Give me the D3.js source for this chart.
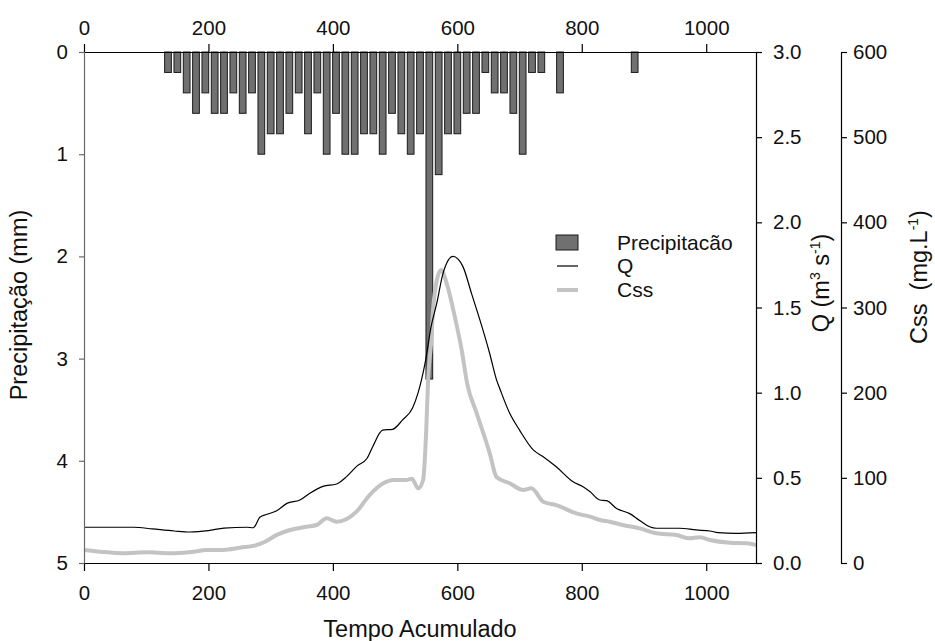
<!DOCTYPE html>
<html>
<head>
<meta charset="utf-8">
<script src="https://cdn.jsdelivr.net/npm/d3@7/dist/d3.min.js"></script>
<style>
html,body{margin:0;padding:0;background:#fff;}
svg{display:block;}
text{font-family:"Liberation Sans",Arial,sans-serif;fill:#111;}
</style>
</head>
<body>
<svg id="chart" width="935" height="641"></svg>
<script>
// ---- data ----
const precipTime = [135,150,165,180,195,210,225,240,255,270,285,300,315,330,345,360,375,390,405,420,435,450,465,480,495,510,525,540,555,570,585,600,615,630,645,660,675,690,705,720,735,765,885];
const precipMm   = [0.2,0.2,0.4,0.6,0.4,0.6,0.6,0.4,0.6,0.4,1.0,0.8,0.8,0.6,0.4,0.8,0.4,1.0,0.6,1.0,1.0,0.8,0.8,1.0,0.6,0.8,1.0,0.8,3.2,1.2,0.8,0.8,0.6,0.6,0.2,0.4,0.4,0.6,1.0,0.2,0.2,0.4,0.2];

const qTime = [0,80,110,145,170,200,225,262,272,283,293,309,326,347,363,384,406,422,439,455,464,480,496,512,528,537,548,558,567,577,593,609,623,636,652,663,668,684,700,722,738,759,786,802,813,829,840,856,877,893,909,920,957,984,1006,1019,1048,1080];
const qVal  = [0.21,0.21,0.20,0.188,0.182,0.19,0.205,0.21,0.207,0.27,0.285,0.305,0.35,0.37,0.41,0.45,0.464,0.507,0.57,0.615,0.683,0.78,0.785,0.84,0.91,1.0,1.17,1.39,1.525,1.70,1.80,1.74,1.58,1.43,1.23,1.075,1.026,0.88,0.78,0.664,0.624,0.565,0.477,0.448,0.42,0.37,0.366,0.32,0.29,0.25,0.213,0.204,0.204,0.194,0.188,0.178,0.174,0.178];

const cTime = [0,26,63,101,138,176,197,224,251,277,291,310,331,358,374,390,406,438,459,481,497,518,527,537,545,550,553,558,561,567,574,583,596,607,616,631,652,663,684,706,719,738,759,791,813,829,845,866,893,920,952,973,990,1006,1038,1065,1080];
const cVal  = [15.3,13.3,11.4,12.5,11.4,13.3,15.3,15.3,18,21,25,33,38.7,42.6,44.6,52.5,48.5,60.3,79.8,93.6,97.5,97.5,99,87.7,97.5,156,215,260,297,332,344,328,289,250,210,176,129,101,93.6,85.7,87.7,72,68,58.3,54.4,50.5,48.5,44.6,40.7,34.9,32.9,29,30.2,27,23.8,23.1,21];

const timeTicks = [0,200,400,600,800,1000];
const precipTicks = [0,1,2,3,4,5];
const qTicks = [0,0.5,1,1.5,2,2.5,3];
const cTicks = [0,100,200,300,400,500,600];

const legendLabels = ["Precipitacão","Q","Css"];

// ---- layout ----
const svg = d3.select("#chart");
const L = 84, R = 756, T = 52, B = 563;
const x = d3.scaleLinear().domain([0,1080]).range([L,R]);
const yP = d3.scaleLinear().domain([0,5]).range([T,B]);
const yQ = d3.scaleLinear().domain([0,3]).range([B,T]);
const yC = d3.scaleLinear().domain([0,600]).range([B,T]);

const barHalf = 5.4;
const barColor = "#707070";
const cssColor = "#c3c3c3";
const fs = 20.5;
const tfs = 23.5;
const lfs = 21;

// bars
svg.append("g").selectAll("rect").data(precipTime.map((t,i)=>({t, v:precipMm[i]})))
  .join("rect")
  .attr("x", d => x(d.t - barHalf))
  .attr("width", d => x(d.t + barHalf) - x(d.t - barHalf))
  .attr("y", yP(0))
  .attr("height", d => yP(d.v) - yP(0))
  .attr("fill", barColor)
  .attr("stroke", "#1a1a1a")
  .attr("stroke-width", 1);

// lines
const qData = qTime.map((t,i)=>[t,qVal[i]]);
const cData = cTime.map((t,i)=>[t,cVal[i]]);
svg.append("path").datum(cData)
  .attr("d", d3.line().x(d=>x(d[0])).y(d=>yC(d[1])).curve(d3.curveMonotoneX))
  .attr("fill","none").attr("stroke",cssColor).attr("stroke-width",4).attr("stroke-linejoin","round");
svg.append("path").datum(qData)
  .attr("d", d3.line().x(d=>x(d[0])).y(d=>yQ(d[1])).curve(d3.curveMonotoneX))
  .attr("fill","none").attr("stroke","#000").attr("stroke-width",1.2);

function styleAxis(g, color){
  g.selectAll("path").attr("stroke", color).attr("stroke-width",1.2);
  g.selectAll("line").attr("stroke", color).attr("stroke-width",1.2);
  g.selectAll("text").attr("font-size", fs).attr("fill","#111")
    .attr("font-family","Liberation Sans, Arial, sans-serif");
}

// bottom axis
const gB = svg.append("g").attr("transform",`translate(0,${B})`)
  .call(d3.axisBottom(x).tickValues(timeTicks).tickFormat(d3.format("d")).tickSizeInner(8).tickSizeOuter(0).tickPadding(14));
styleAxis(gB,"#000");
// top axis
const gT = svg.append("g").attr("transform",`translate(0,${T})`)
  .call(d3.axisTop(x).tickValues(timeTicks).tickFormat(d3.format("d")).tickSizeInner(8).tickSizeOuter(0).tickPadding(9));
styleAxis(gT,"#000");
// left axis
const gL = svg.append("g").attr("transform",`translate(${L},0)`)
  .call(d3.axisLeft(yP).tickValues(precipTicks).tickFormat(d3.format("d")).tickSizeInner(5).tickSizeOuter(0).tickPadding(11));
styleAxis(gL,"#6a6a6a");
// right Q axis
const gQ = svg.append("g").attr("transform",`translate(${R},0)`)
  .call(d3.axisRight(yQ).tickValues(qTicks).tickFormat(d3.format(".1f")).tickSizeInner(6).tickSizeOuter(0).tickPadding(11));
styleAxis(gQ,"#000");
// Css axis
const cssX = 841;
const gC = svg.append("g").attr("transform",`translate(${cssX},0)`)
  .call(d3.axisRight(yC).tickValues(cTicks).tickFormat(d3.format("d")).tickSizeInner(6).tickSizeOuter(0).tickPadding(6));
styleAxis(gC,"#000");

// titles
svg.append("text").attr("x", (L+R)/2).attr("y", 637).attr("text-anchor","middle")
  .attr("font-size",tfs).text("Tempo Acumulado");
svg.append("text").attr("transform","translate(27,305) rotate(-90)").attr("text-anchor","middle")
  .attr("font-size",tfs).text("Precipitação (mm)");

const qt = svg.append("text").attr("transform","translate(829,283) rotate(-90)").attr("text-anchor","middle").attr("font-size",tfs);
qt.append("tspan").text("Q (m");
qt.append("tspan").attr("font-size",14).attr("dy",-9).text("3");
qt.append("tspan").attr("dy",9).text(" s");
qt.append("tspan").attr("font-size",14).attr("dy",-9).text("-1");
qt.append("tspan").attr("dy",9).text(")");

const ct = svg.append("text").attr("transform","translate(927,277) rotate(-90)").attr("text-anchor","middle").attr("font-size",tfs);
ct.append("tspan").text("Css\u00a0\u00a0(mg.L");
ct.append("tspan").attr("font-size",14).attr("dy",-9).text("-1");
ct.append("tspan").attr("dy",9).text(")");

// legend
const lg = svg.append("g");
const lx = 556, ly = [243,266,290];
lg.append("rect").attr("x",lx).attr("y",ly[0]-8).attr("width",22).attr("height",15)
  .attr("fill",barColor).attr("stroke","#1a1a1a").attr("stroke-width",1);
lg.append("line").attr("x1",lx+1).attr("x2",lx+22).attr("y1",ly[1]).attr("y2",ly[1]).attr("stroke","#000").attr("stroke-width",1.2);
lg.append("line").attr("x1",lx+1).attr("x2",lx+22).attr("y1",ly[2]).attr("y2",ly[2]).attr("stroke",cssColor).attr("stroke-width",4);
lg.selectAll("text.lt").data(legendLabels).join("text").attr("class","lt")
  .attr("x",617).attr("y",(d,i)=>ly[i]).attr("dy","0.35em").attr("font-size",lfs).text(d=>d);
</script>
</body>
</html>
